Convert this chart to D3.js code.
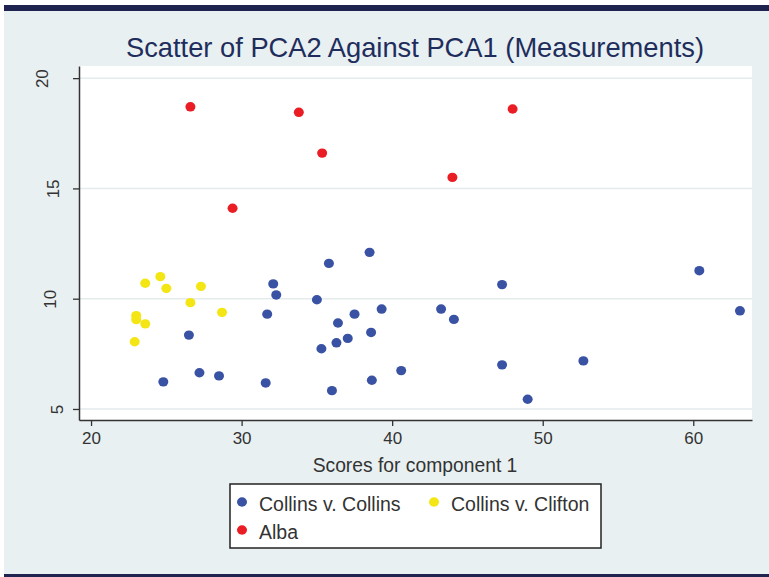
<!DOCTYPE html>
<html>
<head>
<meta charset="utf-8">
<script src="https://cdn.jsdelivr.net/npm/d3@7"></script>
<style>
  body { margin: 0; background: #fff; }
  text { font-family: "Liberation Sans", Arial, sans-serif; }
</style>
</head>
<body>
<div id="chart"></div>
<script>
// data
var groups = ["Collins v. Collins", "Collins v. Clifton", "Alba"];
var groupColors = ["#3a52a3", "#f4e614", "#ea1d25"];

var collinsX = [35.8, 32.1, 32.3, 35.0, 31.7, 37.5, 36.4, 26.5, 37.05, 36.3, 35.3, 27.2, 28.5, 24.8, 31.6, 36.0,
                38.5, 47.3, 60.4, 63.1, 39.3, 43.25, 44.1, 38.6, 38.65, 40.6, 47.3, 49.0, 52.7];
var collinsY = [11.6, 10.67, 10.17, 9.95, 9.3, 9.3, 8.9, 8.35, 8.2, 8.0, 7.73, 6.64, 6.5, 6.23, 6.18, 5.83,
                12.1, 10.64, 11.27, 9.45, 9.53, 9.53, 9.06, 8.47, 6.3, 6.74, 7.0, 5.44, 7.18];

var cliftonX = [23.6, 24.6, 25.0, 27.3, 26.6, 28.7, 23.0, 23.0, 23.6, 22.9];
var cliftonY = [10.7, 11.0, 10.47, 10.56, 9.82, 9.38, 9.23, 9.05, 8.86, 8.05];

var albaX = [26.6, 33.8, 35.35, 29.4, 44.0, 48.0];
var albaY = [18.7, 18.45, 16.6, 14.1, 15.5, 18.6];

var xTicks = [20, 30, 40, 50, 60];
var yTicks = [5, 10, 15, 20];

// setup
var W = 769, H = 577;
var margin = {top: 66, right: 17, bottom: 157, left: 79};
var width = W - margin.left - margin.right,
    height = H - margin.top - margin.bottom;

var svg = d3.select("#chart")
  .append("svg")
    .attr("width", W)
    .attr("height", H);

// page background + dark bands
svg.append("rect").attr("x", 4).attr("y", 5).attr("width", W - 4).attr("height", H - 5).attr("fill", "#e8f0f2");
svg.append("rect").attr("x", 4).attr("y", 5).attr("width", W - 4).attr("height", 6).attr("fill", "#1f2350");
svg.append("rect").attr("x", 4).attr("y", 574).attr("width", W - 4).attr("height", 3).attr("fill", "#1f2350");

var g = svg.append("g")
  .attr("transform", "translate(" + margin.left + "," + margin.top + ")");

g.append("rect").attr("width", width).attr("height", height).attr("fill", "#fff");

var x = d3.scaleLinear().domain([19.2, 63.9]).range([0, width]);
var y = d3.scaleLinear().domain([4.5, 20.55]).range([height, 0]);

// grid
g.selectAll(".grid").data(yTicks).enter().append("line")
  .attr("x1", 0).attr("x2", width)
  .attr("y1", function(d) { return y(d); }).attr("y2", function(d) { return y(d); })
  .attr("stroke", "#e3ebed").attr("stroke-width", 1.5);

// axes
var xAxis = g.append("g")
  .attr("transform", "translate(0," + height + ")")
  .call(d3.axisBottom(x).tickValues(xTicks).tickSize(6).tickSizeOuter(0).tickPadding(6));
xAxis.select(".domain").attr("stroke", "#333").attr("stroke-width", 1.5);
xAxis.selectAll(".tick line").attr("stroke", "#333").attr("stroke-width", 1.3);
xAxis.selectAll(".tick text").attr("font-size", 17).attr("fill", "#333")
  .attr("font-family", "Liberation Sans, Arial, sans-serif");

var yOffset = {20: -8, 15: 3, 10: 0, 5: 7};
var yAxis = g.append("g")
  .call(d3.axisLeft(y).tickValues(yTicks).tickSize(6).tickSizeOuter(0).tickPadding(6));
yAxis.select(".domain").attr("stroke", "#333").attr("stroke-width", 1.5);
yAxis.selectAll(".tick line").attr("stroke", "#333").attr("stroke-width", 1.3);
yAxis.selectAll(".tick text")
  .attr("font-size", 17).attr("fill", "#333")
  .attr("font-family", "Liberation Sans, Arial, sans-serif")
  .attr("text-anchor", "middle")
  .attr("dy", 0)
  .attr("transform", function(d) { return "translate(" + (-23 + yOffset[d]) + ",0) rotate(-90)"; })
  .attr("x", 0).attr("y", 0);

// points
var series = [
  {name: groups[0], xs: collinsX, ys: collinsY, color: groupColors[0]},
  {name: groups[1], xs: cliftonX, ys: cliftonY, color: groupColors[1]},
  {name: groups[2], xs: albaX, ys: albaY, color: groupColors[2]}
];

series.forEach(function(s) {
  var pts = s.xs.map(function(v, i) { return [v, s.ys[i]]; });
  g.selectAll(null).data(pts).enter().append("ellipse")
    .attr("cx", function(d) { return x(d[0]); })
    .attr("cy", function(d) { return y(d[1]); })
    .attr("rx", 5).attr("ry", 4.7)
    .attr("fill", s.color);
});

// title
svg.append("text")
  .attr("x", 415).attr("y", 57)
  .attr("text-anchor", "middle")
  .attr("font-size", 27.3)
  .attr("fill", "#1f2d5c")
  .text("Scatter of PCA2 Against PCA1 (Measurements)");

// x title
svg.append("text")
  .attr("x", 415).attr("y", 472)
  .attr("text-anchor", "middle")
  .attr("font-size", 19.3)
  .attr("fill", "#333")
  .text("Scores for component 1");

// legend
var leg = svg.append("g").attr("transform", "translate(230,484)");
leg.append("rect").attr("width", 371).attr("height", 64)
  .attr("fill", "#fff").attr("stroke", "#222").attr("stroke-width", 1.5);

var legPos = [[12, 18], [204, 18], [12, 46]];
series.forEach(function(s, i) {
  var it = leg.append("g").attr("transform", "translate(" + legPos[i][0] + "," + legPos[i][1] + ")");
  it.append("ellipse").attr("cx", 0).attr("cy", 0).attr("rx", 5).attr("ry", 4.7).attr("fill", s.color);
  it.append("text").attr("x", 17).attr("y", 9).attr("font-size", 19.5).attr("fill", "#333").text(s.name);
});
</script>
</body>
</html>
